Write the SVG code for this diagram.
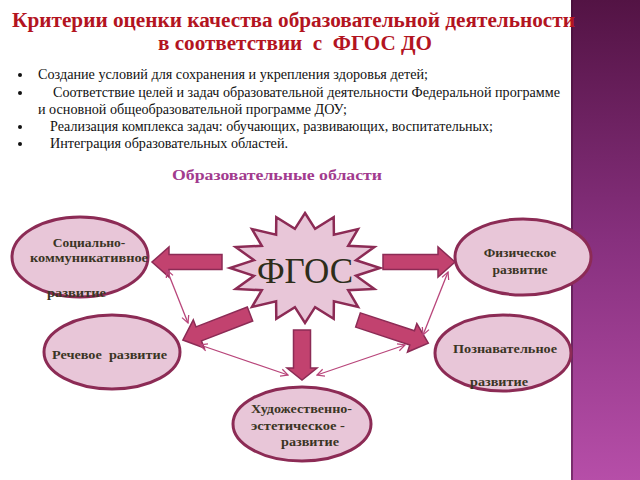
<svg xmlns="http://www.w3.org/2000/svg" width="640" height="480" viewBox="0 0 640 480">
<defs>
<linearGradient id="strip" x1="0" y1="0" x2="0" y2="1">
<stop offset="0" stop-color="#531344"/>
<stop offset="0.5" stop-color="#87307e"/>
<stop offset="1" stop-color="#b64ea8"/>
</linearGradient>
<marker id="oa" viewBox="0 0 10 10" refX="9" refY="5" markerWidth="9" markerHeight="9" markerUnits="userSpaceOnUse" orient="auto-start-reverse">
<path d="M1,1 L9,5 L1,9" fill="none" stroke="#b8457a" stroke-width="1.4"/>
</marker>
<style>
.title{font-family:"Liberation Serif",serif;font-weight:bold;font-size:20px;fill:#b3141f;white-space:pre}
.bul{font-family:"Liberation Serif",serif;font-size:14px;fill:#111;white-space:pre}
.sub{font-family:"Liberation Serif",serif;font-weight:bold;font-size:15px;fill:#a23b8e}
.el{fill:#e8c6d8;stroke:#8c2b55;stroke-width:3}
.lbl{font-family:"Liberation Serif",serif;font-weight:bold;font-size:13.5px;fill:#3a3524;white-space:pre}
.ba{fill:#c2426f;stroke:#8c2b55;stroke-width:1.5}
.tl{stroke:#b8457a;stroke-width:1.3;fill:none;marker-start:url(#oa);marker-end:url(#oa)}
</style>
</defs>
<rect width="640" height="480" fill="#ffffff"/>
<rect x="571" y="0" width="69" height="480" fill="url(#strip)"/>
<rect x="571" y="0" width="2" height="480" fill="#3d0d33" opacity="0.5"/>

<text class="title" x="12" y="27" textLength="563" lengthAdjust="spacingAndGlyphs">Критерии оценки качества образовательной деятельности</text>
<text class="title" x="158" y="50" textLength="274" lengthAdjust="spacingAndGlyphs">в соответствии  с  ФГОС ДО</text>

<g id="bullets">
<circle cx="20" cy="75" r="2" fill="#111"/>
<circle cx="20" cy="93" r="2" fill="#111"/>
<circle cx="20" cy="127" r="2" fill="#111"/>
<circle cx="20" cy="144" r="2" fill="#111"/>
<text class="bul" x="38" y="79" textLength="390" lengthAdjust="spacingAndGlyphs">Создание условий для сохранения и укрепления здоровья детей;</text>
<text class="bul" x="53" y="97" textLength="507" lengthAdjust="spacingAndGlyphs">Соответствие целей и задач образовательной деятельности Федеральной программе</text>
<text class="bul" x="38" y="114" textLength="309" lengthAdjust="spacingAndGlyphs">и основной общеобразовательной программе ДОУ;</text>
<text class="bul" x="50" y="131" textLength="443" lengthAdjust="spacingAndGlyphs">Реализация комплекса задач: обучающих, развивающих, воспитательных;</text>
<text class="bul" x="50" y="148" textLength="238" lengthAdjust="spacingAndGlyphs">Интеграция образовательных областей.</text>
</g>

<text class="sub" x="172" y="180" textLength="210" lengthAdjust="spacingAndGlyphs">Образовательные области</text>

<g id="connectors">
<path class="ba" transform="translate(222,262) rotate(180)" d="M0,-7.5 H53 V-15 L70,0 L53,15 V7.5 H0 Z"/>
<path class="ba" transform="translate(383,262)" d="M0,-7.5 H55 V-15 L72,0 L55,15 V7.5 H0 Z"/>
<path class="ba" transform="translate(250,314) rotate(158.8)" d="M0,-7.5 H55 V-15 L72,0 L55,15 V7.5 H0 Z"/>
<path class="ba" transform="translate(358,320) rotate(18.2)" d="M0,-7.5 H57 V-15 L74,0 L57,15 V7.5 H0 Z"/>
<path class="ba" transform="translate(302,330) rotate(90)" d="M0,-8.5 H38 V-15 L50,0 L38,15 V8.5 H0 Z"/>
<line class="tl" x1="167" y1="270" x2="188" y2="323"/>
<line class="tl" x1="448" y1="272" x2="423" y2="335"/>
<line class="tl" x1="200" y1="345" x2="288" y2="375"/>
<line class="tl" x1="317" y1="375" x2="405" y2="345"/>
</g>

<g id="fgos">
<polygon fill="#e8c6d8" stroke="#8c2b55" stroke-width="2.5" points="305,213 315.1,228.8 333.7,217.2 333.9,234.7 358,229.1 348.2,245.8 374.3,247 356,260.2 380,268 356,275.8 374.3,289 348.2,290.2 358,306.9 333.9,301.3 333.7,318.8 315.1,307.2 305,323 294.9,307.2 276.3,318.8 276.1,301.3 252,306.9 261.8,290.2 235.7,289 254,275.8 230,268 254,260.2 235.7,247 261.8,245.8 252,229.1 276.1,234.7 276.3,217.2 294.9,228.8"/>
<text x="305" y="283" text-anchor="middle" font-family="'Liberation Serif',serif" font-size="35" fill="#2d2d1a">ФГОС</text>
</g>

<g id="social">
<ellipse class="el" cx="80" cy="257" rx="68" ry="40"/>
<text class="lbl" x="89" y="247" text-anchor="middle">Социально-</text>
<text class="lbl" x="30" y="262" textLength="118" lengthAdjust="spacingAndGlyphs">коммуникативное</text>
<text class="lbl" x="47" y="297" textLength="59" lengthAdjust="spacingAndGlyphs">развитие</text>
</g>

<g id="physical">
<ellipse class="el" cx="523" cy="257" rx="68" ry="38"/>
<text class="lbl" x="520" y="257" text-anchor="middle">Физическое</text>
<text class="lbl" x="520" y="274" text-anchor="middle">развитие</text>
</g>

<g id="speech">
<ellipse class="el" cx="112" cy="352" rx="68" ry="37"/>
<text class="lbl" x="52" y="359" textLength="115" lengthAdjust="spacingAndGlyphs">Речевое  развитие</text>
</g>

<g id="cognitive">
<ellipse class="el" cx="503" cy="353" rx="68" ry="38"/>
<text class="lbl" x="453" y="353" textLength="104" lengthAdjust="spacingAndGlyphs">Познавательное</text>
<text class="lbl" x="470" y="386" textLength="58" lengthAdjust="spacingAndGlyphs">развитие</text>
</g>

<g id="artistic">
<ellipse class="el" cx="302" cy="424" rx="69" ry="37"/>
<text class="lbl" x="251" y="413" textLength="101" lengthAdjust="spacingAndGlyphs">Художественно-</text>
<text class="lbl" x="251" y="430" textLength="94" lengthAdjust="spacingAndGlyphs">эстетическое -</text>
<text class="lbl" x="281" y="446" textLength="58" lengthAdjust="spacingAndGlyphs">развитие</text>
</g>
</svg>
